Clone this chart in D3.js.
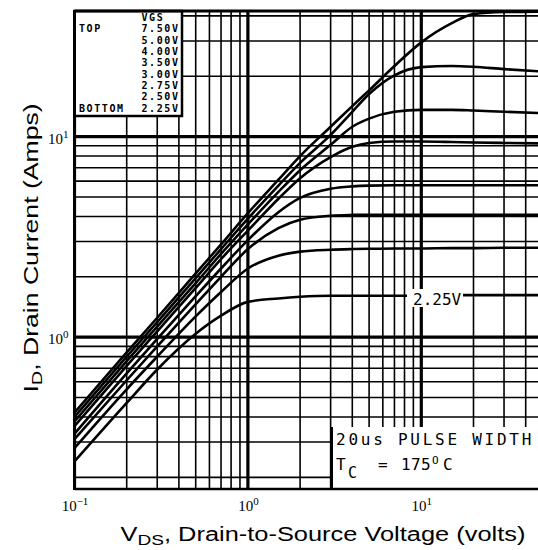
<!DOCTYPE html>
<html><head><meta charset="utf-8">
<script src="https://cdn.jsdelivr.net/npm/d3@7"></script>
<style>body{margin:0;background:#fff}svg{display:block}</style>
</head><body><svg id="c" width="538" height="550"></svg>
<script>
// ---- data ----
const vds = [0.1,0.2,0.3,0.5,0.7,1,1.5,2,3,4,5,7,10,15,20,30,50];
const vgsLabels = ["7.50V","5.00V","4.00V","3.50V","3.00V","2.75V","2.50V","2.25V"];
const id750 = [0.42,0.84,1.25,2.08,2.9,4.15,6.1,8.0,11.2,14.2,17.0,22.5,29.5,36.8,40.8,41.8,42.0];
const id500 = [0.40,0.80,1.19,1.97,2.75,3.9,5.7,7.4,10.2,13.3,16.3,20.2,22.2,22.5,22.3,21.7,21.1];
const id400 = [0.38,0.76,1.13,1.86,2.6,3.65,5.3,6.8,9.1,11.2,12.3,13.3,13.6,13.6,13.5,13.3,13.1];
const id350 = [0.36,0.72,1.07,1.76,2.45,3.4,4.9,6.2,7.9,8.9,9.3,9.45,9.45,9.4,9.35,9.3,9.25];
const id300 = [0.33,0.66,0.98,1.6,2.2,3.05,4.2,4.95,5.5,5.65,5.7,5.72,5.72,5.72,5.72,5.72,5.72];
const id275 = [0.31,0.61,0.9,1.46,2.0,2.75,3.5,3.85,4.03,4.07,4.08,4.08,4.08,4.08,4.08,4.08,4.08];
const id250 = [0.28,0.55,0.8,1.27,1.68,2.2,2.55,2.67,2.73,2.75,2.76,2.77,2.77,2.78,2.78,2.79,2.79];
const id225 = [0.24,0.47,0.69,1.04,1.28,1.50,1.56,1.59,1.61,1.61,1.61,1.61,1.61,1.62,1.62,1.62,1.62];
const seriesIds = [id750,id500,id400,id350,id300,id275,id250,id225];
const xTickVals = [0.1,1,10];
const xTickExp = ["\u22121","0","1"];
const yTickVals = [1,10];
const yTickExp = ["0","1"];

// ---- layout ----
const W = 538, H = 550;
const L = 74.5, T = 11, B = 489;
const svg = d3.select("#c");
svg.append("rect").attr("width",W).attr("height",H).attr("fill","#fff");

const x = d3.scaleLog().domain([0.1, 50]).range([L, L + 173.4*Math.log10(500)]);
const y = d3.scaleLog().domain([0.175, 42.3]).range([B, T]);

svg.append("clipPath").attr("id","pc").append("rect")
  .attr("x",L).attr("y",T).attr("width",W-L).attr("height",B-T);
const plot = svg.append("g").attr("clip-path","url(#pc)");

// grid
const gridV = [], gridH = [];
[-1,0,1].forEach(k=>{ for(let m=1;m<=9;m++){ const v=+(m*Math.pow(10,k)).toPrecision(3);
  if(v>=0.1 && v<=50) gridV.push(v); if(v>=0.175 && v<=42.3) gridH.push(v);} });
const isMajor = v => Math.abs(Math.log10(v) - Math.round(Math.log10(v))) < 1e-6;
plot.selectAll("line.gv").data(gridV).join("line").attr("class","gv")
  .attr("x1",d=>x(d)).attr("x2",d=>x(d)).attr("y1",T).attr("y2",B)
  .attr("stroke","#000").attr("stroke-width",d=>isMajor(d)?3.2:1.6);
plot.selectAll("line.gh").data(gridH).join("line").attr("class","gh")
  .attr("y1",d=>y(d)).attr("y2",d=>y(d)).attr("x1",L).attr("x2",W)
  .attr("stroke","#000").attr("stroke-width",d=>isMajor(d)?3.2:1.6);

// curves
const line = d3.line().x((d,i)=>x(vds[i])).y(d=>y(d)).curve(d3.curveMonotoneX);
plot.selectAll("path.curve").data(seriesIds).join("path").attr("class","curve")
  .attr("d",line).attr("fill","none").attr("stroke","#000").attr("stroke-width",2.6);

// 2.25V inline label
const lab = svg.append("g");
lab.append("rect").attr("x",407).attr("y",289).attr("width",56).attr("height",18).attr("fill","#fff");
lab.append("text").attr("x",413).attr("y",305).attr("font-family","DejaVu Sans Mono")
  .attr("font-size",16).text(vgsLabels[7]);

// annotation box
const ann = svg.append("g");
ann.append("rect").attr("x",332).attr("y",427).attr("width",W-332).attr("height",B-427).attr("fill","#fff");
ann.append("line").attr("x1",332).attr("x2",332).attr("y1",427).attr("y2",B).attr("stroke","#000").attr("stroke-width",2);
ann.append("text").attr("x",336).attr("y",445).attr("font-family","DejaVu Sans Mono").attr("font-size",16)
  .attr("letter-spacing",2.75).text("20us PULSE WIDTH");
const tc = ann.append("text").attr("font-family","DejaVu Sans Mono").attr("font-size",16);
tc.append("tspan").attr("x",336).attr("y",470).text("T");
tc.append("tspan").attr("x",348).attr("y",478).attr("font-size",15).text("C");
tc.append("tspan").attr("x",378).attr("y",470).text("=");
tc.append("tspan").attr("x",401).attr("y",470).attr("letter-spacing",0.4).text("175");
tc.append("tspan").attr("x",432).attr("y",464).attr("font-size",11).text("O");
tc.append("tspan").attr("x",443).attr("y",470).text("C");

// legend box
const lg = svg.append("g");
lg.append("rect").attr("x",L).attr("y",T).attr("width",182-L).attr("height",116-T)
  .attr("fill","#fff").attr("stroke","#000").attr("stroke-width",2.5);
const lf = t => t.attr("font-family","DejaVu Sans Mono").attr("font-weight","bold")
  .attr("font-size",10).attr("letter-spacing",1.6);
lf(lg.append("text").attr("x",141.5).attr("y",21).text("VGS"));
lf(lg.append("text").attr("x",79).attr("y",32.3).text("TOP"));
lf(lg.append("text").attr("x",79).attr("y",111.7).text("BOTTOM"));
lg.selectAll("text.lv").data(vgsLabels).join("text").attr("class","lv")
  .attr("x",141.5).attr("y",(d,i)=>32.3+i*11.34).text(d=>d).call(lf);

// frame
svg.append("line").attr("x1",L).attr("x2",L).attr("y1",T-1).attr("y2",B+1).attr("stroke","#000").attr("stroke-width",3);
svg.append("line").attr("x1",L).attr("x2",W).attr("y1",T).attr("y2",T).attr("stroke","#000").attr("stroke-width",3);
svg.append("line").attr("x1",L).attr("x2",W).attr("y1",B).attr("y2",B).attr("stroke","#000").attr("stroke-width",2.5);

// axes (tick labels only)
const supFmt = (sel, exps, vals) => sel.selectAll(".tick text").each(function(d){
  const t = d3.select(this); const i = vals.indexOf(d); t.text(null);
  t.append("tspan").text("10");
  t.append("tspan").attr("dy",-6).attr("font-size",11).text(exps[i]);
});
const ax = svg.append("g").attr("transform",`translate(0,${B})`)
  .call(d3.axisBottom(x).tickValues(xTickVals).tickSize(0).tickPadding(11).tickFormat(()=>"x"));
ax.select(".domain").remove();
ax.selectAll(".tick text").attr("font-family","Liberation Serif").attr("font-size",15).attr("fill","#000");
supFmt(ax, xTickExp, xTickVals);
const ay = svg.append("g").attr("transform",`translate(${L},0)`)
  .call(d3.axisLeft(y).tickValues(yTickVals).tickSize(0).tickPadding(6).tickFormat(()=>"x"));
ay.select(".domain").remove();
ay.selectAll(".tick text").attr("font-family","Liberation Serif").attr("font-size",15).attr("fill","#000").attr("dy","0.45em");
supFmt(ay, yTickExp, yTickVals);

// axis titles (horizontally wide sans, as in the scan)
const xt = svg.append("g").attr("transform","translate(323,541) scale(1.27,1)")
  .append("text").attr("text-anchor","middle")
  .attr("font-family","Liberation Sans").attr("font-size",20);
xt.append("tspan").text("V");
xt.append("tspan").attr("dy",4).attr("font-size",15).text("DS");
xt.append("tspan").attr("dy",-4).text(", Drain-to-Source Voltage (volts)");
const yt = svg.append("g").attr("transform","translate(38,248) rotate(-90) scale(1.33,1)")
  .append("text").attr("text-anchor","middle")
  .attr("font-family","Liberation Sans").attr("font-size",20);
yt.append("tspan").text("I");
yt.append("tspan").attr("dy",4).attr("font-size",15).text("D");
yt.append("tspan").attr("dy",-4).text(", Drain Current (Amps)");
</script></body></html>
